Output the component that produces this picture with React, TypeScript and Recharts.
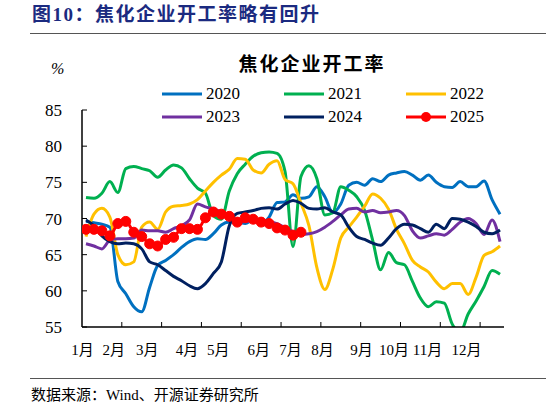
import React from 'react'
import { Line, LineChart, XAxis, YAxis } from 'recharts'

// weekly positions on the x axis (53 weeks, point sits in the middle of its slot)
const weekPos = Array.from({ length: 53 }, (_, i) => i + 0.5)

const s2020 = [69.6, 69.4, 69.2, 68.8, 61.3, 59.6, 57.8, 57.1, 60.5, 63.5, 64.2, 65.0, 66.0, 66.8, 67.2, 67.1, 67.9, 69.1, 69.5, 69.5, 69.3, 69.8, 69.3, 70.2, 72.2, 72.3, 73.3, 72.8, 73.0, 74.4, 73.0, 70.8, 72.0, 74.6, 75.0, 74.6, 75.5, 75.1, 76.0, 76.3, 76.5, 76.0, 75.3, 76.0, 75.0, 74.4, 74.3, 75.1, 74.4, 74.4, 75.2, 72.6, 70.6]
const s2021 = [72.9, 72.8, 73.5, 75.1, 73.6, 76.9, 77.2, 76.9, 76.6, 75.7, 76.7, 77.4, 77.0, 75.5, 74.2, 73.5, 70.4, 69.9, 73.8, 76.2, 77.5, 78.6, 79.1, 79.2, 79.0, 76.5, 66.1, 75.8, 77.3, 75.5, 70.5, 70.8, 74.4, 73.9, 73.0, 71.1, 67.0, 62.9, 65.3, 63.9, 63.6, 61.3, 59.0, 57.8, 58.5, 58.3, 55.4, 54.3, 56.8, 58.6, 60.6, 62.8, 62.3]
const s2022 = [67.5, 70.6, 71.4, 70.2, 65.0, 63.6, 64.0, 68.8, 69.5, 68.5, 70.9, 71.7, 71.8, 72.0, 72.6, 73.8, 75.0, 76.0, 76.8, 78.3, 78.2, 76.7, 76.3, 77.5, 78.0, 75.4, 74.8, 72.1, 69.0, 63.2, 60.2, 63.0, 67.3, 68.8, 70.2, 71.7, 73.4, 72.8, 71.3, 68.5, 66.5, 64.2, 63.3, 62.6, 61.2, 60.3, 61.0, 61.0, 59.5, 61.9, 64.9, 65.4, 66.2]
const s2023 = [66.5, 66.2, 65.8, 67.0, 67.2, 67.2, 67.3, 68.4, 68.3, 68.3, 68.1, 68.6, 69.0, 69.8, 72.0, 71.6, 71.3, 70.9, 70.0, 69.5, 69.6, 69.6, 69.5, 69.5, 69.3, 68.7, 68.2, 67.8, 67.9, 68.2, 68.8, 69.6, 70.5, 71.3, 71.4, 70.9, 71.1, 70.8, 70.9, 71.1, 70.4, 68.3, 67.3, 67.6, 67.9, 67.7, 68.5, 69.5, 70.0, 69.3, 67.8, 69.8, 66.8]
const s2024 = [69.8, 69.0, 67.6, 66.8, 66.5, 66.6, 66.5, 65.8, 64.0, 63.6, 62.8, 62.0, 61.4, 60.7, 60.3, 61.0, 62.4, 64.0, 69.0, 70.7, 70.9, 71.1, 71.4, 71.5, 71.3, 72.0, 72.5, 72.1, 71.4, 71.3, 71.5, 70.9, 70.5, 68.8, 67.5, 67.1, 66.6, 66.3, 67.3, 68.6, 69.2, 69.1, 68.6, 68.1, 69.2, 68.6, 70.0, 69.9, 69.5, 68.9, 68.1, 67.9, 68.4]
const s2025 = [68.5, 68.5, 68.3, 67.6, 69.3, 69.6, 68.1, 67.5, 66.5, 66.2, 67.1, 67.4, 68.6, 68.6, 68.5, 70.1, 70.9, 70.6, 70.3, 69.5, 70.1, 69.9, 69.5, 69.3, 68.7, 68.4, 67.7, 68.1]

const seriesNames = ['2020', '2021', '2022', '2023', '2024', '2025']
const seriesValues = [s2020, s2021, s2022, s2023, s2024, s2025]
const seriesColors = ['#0070C0', '#00B050', '#FFC000', '#7030A0', '#002060', '#FF0000']

const monthLabels = ['1月', '2月', '3月', '4月', '5月', '6月', '7月', '8月', '9月', '10月', '11月', '12月']
const monthLabelPos = [0.06, 4.0, 8.2, 13.2, 17.1, 22.2, 26.2, 30.2, 35.1, 39.2, 43.4, 48.3]
const tickMarks = [5, 10, 15, 20, 25, 30, 35, 40, 45, 50]
const yTicks = [55, 60, 65, 70, 75, 80, 85]

const data = weekPos.map((w, i) => {
    const row: any = { w }
    seriesNames.forEach((n, k) => {
        row['y' + n] = seriesValues[k][i]
    })
    return row
})

const serif = "'Liberation Serif', 'Times New Roman', 'Noto Sans CJK SC', serif"

const XTick = (props: any) => {
    const { x, y, payload } = props
    const idx = monthLabelPos.indexOf(payload.value)
    if (idx >= 0) {
        return (
            <text x={x} y={y + 28} textAnchor="middle" fontSize={15} fontFamily={serif} fill="#000">
                {monthLabels[idx]}
            </text>
        )
    }
    return <line x1={x} y1={y} x2={x} y2={y - 5} stroke="#000" strokeWidth={1} />
}

const YTick = (props: any) => {
    const { x, y, payload } = props
    return (
        <g>
            <line x1={x} y1={y} x2={x + 5} y2={y} stroke="#000" strokeWidth={1} />
            <text x={x - 20} y={y + 6} textAnchor="end" fontSize={17} fontFamily={serif} fill="#000">
                {payload.value}
            </text>
        </g>
    )
}

const App = () => {
    return (
        <div
            style={{
                position: 'absolute',
                left: 0,
                top: 0,
                width: 546,
                height: 408,
                background: '#fff',
                fontFamily: serif,
                overflow: 'hidden',
            }}
        >
            <div
                style={{
                    position: 'absolute',
                    left: 32,
                    top: 4,
                    fontSize: 19,
                    lineHeight: '22px',
                    fontWeight: 'bold',
                    color: '#1B2A80',
                    letterSpacing: 1.5,
                    whiteSpace: 'nowrap',
                }}
            >
                图10：焦化企业开工率略有回升
            </div>
            <div style={{ position: 'absolute', left: 30, top: 33, width: 516, height: 1, background: '#555' }} />

            <div
                style={{
                    position: 'absolute',
                    left: 312,
                    top: 54,
                    transform: 'translateX(-50%)',
                    fontSize: 19,
                    lineHeight: '22px',
                    fontWeight: 'bold',
                    letterSpacing: 2,
                    whiteSpace: 'nowrap',
                    color: '#000',
                }}
            >
                焦化企业开工率
            </div>
            <div style={{ position: 'absolute', left: 51, top: 59, fontSize: 16, lineHeight: '20px', fontStyle: 'italic' }}>%</div>

            {seriesNames.map((n, i) => {
                const col = i % 3
                const row = Math.floor(i / 3)
                const left = 162 + col * 122
                const top = 94 + row * 23
                return (
                    <div key={n} style={{ position: 'absolute', left, top: top - 11, height: 22, display: 'flex', alignItems: 'center' }}>
                        <svg width={41} height={22} style={{ display: 'block' }}>
                            <line x1={0} y1={11} x2={40} y2={11} stroke={seriesColors[i]} strokeWidth={3} />
                            {n === '2025' && <circle cx={20} cy={11} r={5} fill={seriesColors[i]} />}
                        </svg>
                        <span style={{ fontSize: 17, lineHeight: '22px', marginLeft: 3 }}>{n}</span>
                    </div>
                )
            })}

            <div style={{ position: 'absolute', left: 0, top: 0 }}>
                <LineChart
                    width={546}
                    height={408}
                    data={data}
                    margin={{ top: 110, right: 42, bottom: 51, left: 22 }}
                >
                    <XAxis
                        dataKey="w"
                        type="number"
                        domain={[0, 53]}
                        ticks={[...monthLabelPos, ...tickMarks]}
                        interval={0}
                        height={30}
                        tickSize={0}
                        tickMargin={0}
                        tickLine={false}
                        axisLine={{ stroke: '#000', strokeWidth: 1.5 }}
                        tick={<XTick />}
                        allowDataOverflow
                    />
                    <YAxis
                        domain={[55, 85]}
                        ticks={yTicks}
                        interval={0}
                        width={60}
                        tickSize={0}
                        tickMargin={0}
                        tickLine={false}
                        axisLine={{ stroke: '#000', strokeWidth: 1.5 }}
                        tick={<YTick />}
                        allowDataOverflow
                    />
                    {seriesNames.map((n, i) => (
                        <Line
                            key={n}
                            dataKey={'y' + n}
                            name={n}
                            type="monotone"
                            stroke={seriesColors[i]}
                            strokeWidth={3}
                            dot={n === '2025' ? { r: 5, fill: seriesColors[i], stroke: seriesColors[i], strokeWidth: 1 } : false}
                            activeDot={false}
                            isAnimationActive={false}
                        />
                    ))}
                </LineChart>
            </div>

            <div style={{ position: 'absolute', left: 30, top: 378, width: 516, height: 1, background: '#555' }} />
            <div style={{ position: 'absolute', left: 31, top: 385, fontSize: 15, lineHeight: '20px', whiteSpace: 'nowrap' }}>
                数据来源：Wind、开源证券研究所
            </div>
        </div>
    )
}

export default App
